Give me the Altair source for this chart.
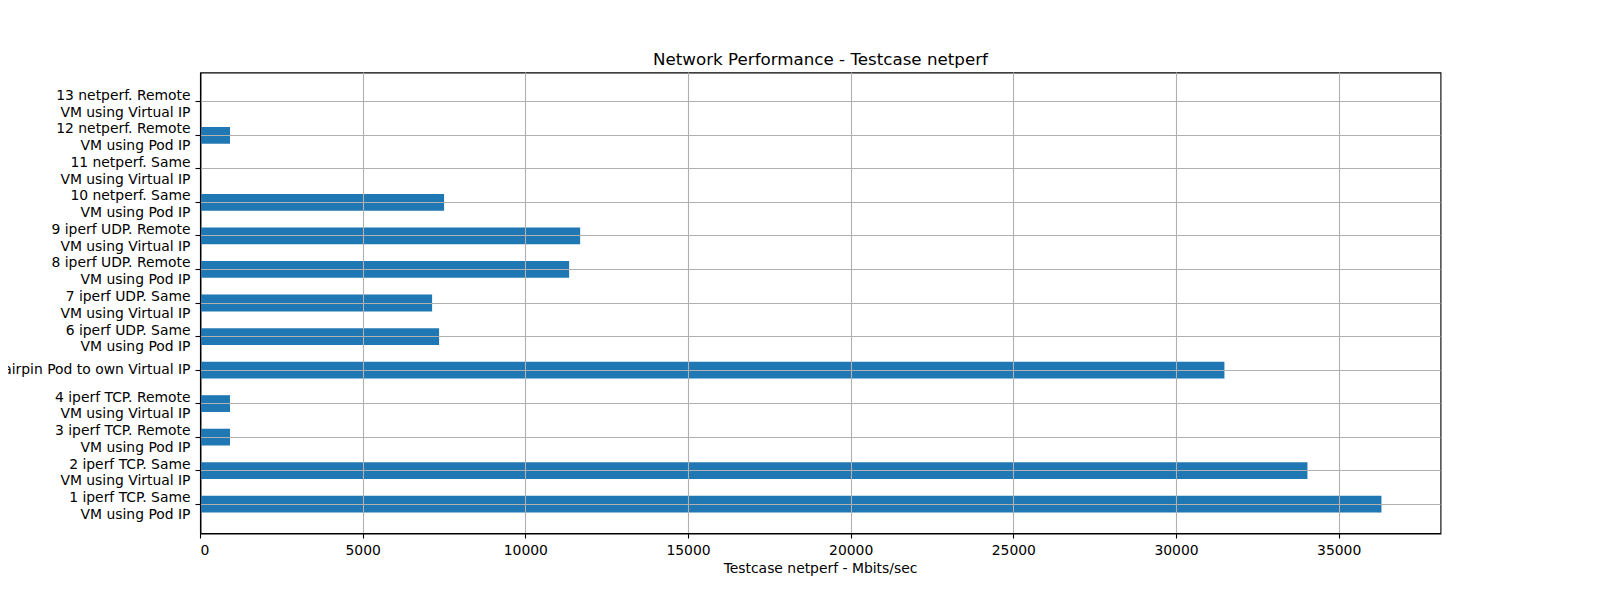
import json
import altair as alt
import pandas as pd

labels = [
    "1 iperf TCP. Same \nVM using Pod IP",
    "2 iperf TCP. Same \nVM using Virtual IP",
    "3 iperf TCP. Remote \nVM using Pod IP",
    "4 iperf TCP. Remote \nVM using Virtual IP",
    "5 iperf TCP. Hairpin Pod to own Virtual IP",
    "6 iperf UDP. Same \nVM using Pod IP",
    "7 iperf UDP. Same \nVM using Virtual IP",
    "8 iperf UDP. Remote \nVM using Pod IP",
    "9 iperf UDP. Remote \nVM using Virtual IP",
    "10 netperf. Same \nVM using Pod IP",
    "11 netperf. Same \nVM using Virtual IP",
    "12 netperf. Remote \nVM using Pod IP",
    "13 netperf. Remote \nVM using Virtual IP",
]
values = [36300, 34025, 907, 907, 31473, 7334, 7119, 11331, 11670, 7488, 0, 907, 0]
x_ticks = [0, 5000, 10000, 15000, 20000, 25000, 30000, 35000]

df = pd.DataFrame({"idx": list(range(len(labels))), "label": labels, "value": values})

# keep the trailing space visible in SVG (non-breaking space)
shown = [s.replace(" \n", "\u00a0\n") for s in labels]
label_expr = "split(" + json.dumps(shown, ensure_ascii=False) + "[datum.value], '\\n')"
single_line = [i for i, s in enumerate(labels) if "\n" not in s]
single_test = " || ".join(f"datum.value === {i}" for i in single_line)

FONT = "DejaVu Sans"
GRID = "#b0b0b0"
LINE_H = 16.7

common_axis = dict(
    grid=True,
    gridColor=GRID,
    gridWidth=1.1,
    domainColor="black",
    domainWidth=1.1,
    tickColor="black",
    tickWidth=1.1,
    tickSize=5,
    labelPadding=5,
    labelFont=FONT,
    labelFontSize=13.9,
    labelColor="black",
    translate=0,
    zindex=1,
)

chart = (
    alt.Chart(df)
    .transform_calculate(lo="datum.idx - 0.25", hi="datum.idx + 0.25")
    .mark_bar(color="#1f77b4")
    .encode(
        x=alt.X(
            "value:Q",
            scale=alt.Scale(domain=[0, 38115], nice=False, zero=True),
            axis=alt.Axis(
                title="Testcase netperf - Mbits/sec",
                values=x_ticks,
                format="d",
                titleFont=FONT,
                titleFontSize=13.9,
                titleFontWeight="normal",
                titleColor="black",
                titlePadding=5,
                **common_axis,
            ),
        ),
        x2=alt.datum(0),
        y=alt.Y(
            "lo:Q",
            scale=alt.Scale(domain=[-0.875, 12.875], nice=False, zero=False),
            axis=alt.Axis(
                title=None,
                values=list(range(len(labels))),
                labelExpr=label_expr,
                labelLineHeight=LINE_H,
                labelAlign="right",
                labelBaseline="middle",
                labelOffset={"condition": {"test": single_test, "value": 0}, "value": -6},
                labelLimit=0,
                labelOverlap=False,
                labelBound=False,
                **common_axis,
            ),
        ),
        y2="hi:Q",
    )
    .properties(
        width=1240,
        height=461,
        background="white",
        title=alt.TitleParams(
            "Network Performance - Testcase netperf",
            font=FONT,
            fontSize=16.7,
            fontWeight="normal",
            color="black",
            anchor="middle",
            offset=4,
        ),
        autosize=alt.AutoSizeParams(type="none"),
        padding={"left": 192.5, "top": 64.5, "right": 151.5, "bottom": 49.5},
    )
    .configure_view(stroke="black", strokeWidth=1.1)
)

chart.save("out.html", embed_options={"renderer": "svg", "actions": False})
